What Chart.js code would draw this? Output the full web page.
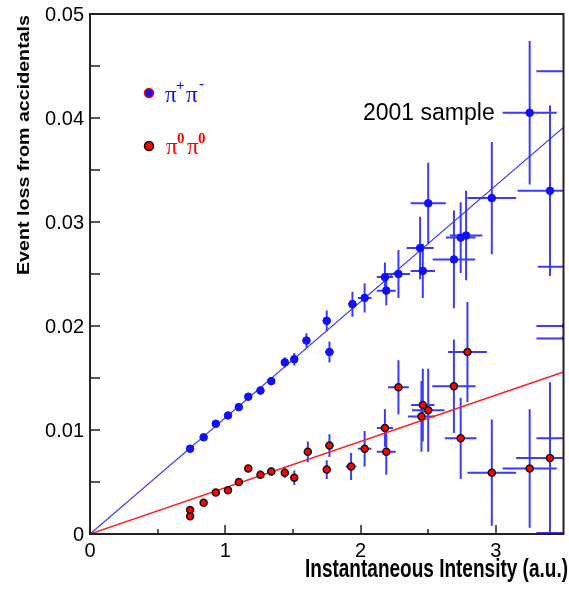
<!DOCTYPE html>
<html lang="en">
<head>
<meta charset="UTF-8">
<title>Event loss from accidentals - 2001 sample</title>
<script src="https://cdn.jsdelivr.net/npm/chart.js"></script>
<style>
  html, body { margin: 0; padding: 0; background: #fff; }
  #wrap { width: 569px; height: 589px; }
</style>
</head>
<body>
<div id="wrap"><canvas id="lossChart" width="569" height="589"></canvas></div>
<script>
// axis ranges and ticks
const xRange = [0, 3.5];
const yRange = [0, 0.05];
const xTickValues = [0, 1, 2, 3];
const xTickLabels = ['0', '1', '2', '3'];
const xMinorTicks = [0.5, 1.5, 2.5];
const yTickValues = [0, 0.01, 0.02, 0.03, 0.04, 0.05];
const yTickLabels = ['0', '0.01', '0.02', '0.03', '0.04', '0.05'];
const yMinorTicks = [0.005, 0.015, 0.025, 0.035, 0.045];

// pi+ pi- (last four sit past the right edge, only their bars show)
const chargedX  = [0.74, 0.84, 0.93, 1.02, 1.10, 1.17, 1.26, 1.34, 1.44, 1.51, 1.60, 1.75, 1.77, 1.94, 2.03, 2.18, 2.19, 2.28, 2.44, 2.46, 2.50, 2.69, 2.74, 2.78, 2.97, 3.25, 3.40, 3.55, 3.53, 3.52, 3.52];
const chargedY  = [0.0082, 0.0093, 0.0106, 0.0114, 0.0122, 0.0132, 0.0138, 0.0147, 0.0165, 0.0168, 0.0186, 0.0205, 0.0175, 0.0221, 0.0227, 0.0247, 0.0234, 0.0250, 0.0275, 0.0253, 0.0318, 0.0264, 0.0285, 0.0287, 0.0323, 0.0405, 0.0330, 0.0445, 0.0257, 0.0200, 0.0188];
const chargedEx = [0.005, 0.005, 0.005, 0.005, 0.005, 0.01, 0.01, 0.01, 0.015, 0.015, 0.02, 0.03, 0.03, 0.03, 0.05, 0.06, 0.07, 0.085, 0.10, 0.09, 0.13, 0.157, 0.11, 0.12, 0.18, 0.2, 0.24, 0.25, 0.22, 0.22, 0.22];
const chargedEy = [0.0002, 0.0002, 0.0003, 0.0003, 0.0003, 0.0003, 0.0004, 0.0004, 0.0005, 0.0006, 0.0007, 0.001, 0.001, 0.0012, 0.0014, 0.0014, 0.0014, 0.0023, 0.003, 0.0026, 0.0039, 0.0047, 0.0034, 0.0043, 0.0054, 0.0069, 0.0082, 0.007, 0.006, 0.005, 0.005];

// pi0 pi0
const neutralX  = [0.74, 0.74, 0.84, 0.93, 1.02, 1.10, 1.17, 1.26, 1.34, 1.44, 1.51, 1.61, 1.75, 1.77, 1.93, 2.03, 2.18, 2.19, 2.28, 2.46, 2.50, 2.45, 2.69, 2.79, 2.74, 2.97, 3.25, 3.40, 3.53, 3.53];
const neutralY  = [0.0023, 0.0017, 0.0030, 0.0040, 0.0042, 0.0050, 0.0063, 0.0057, 0.0060, 0.0059, 0.0054, 0.0079, 0.0062, 0.0085, 0.0065, 0.0082, 0.0102, 0.0079, 0.0141, 0.0124, 0.0119, 0.0113, 0.0142, 0.0175, 0.0092, 0.0059, 0.0063, 0.0073, 0.0092, 0.0001];
const neutralEx = [0.005, 0.005, 0.005, 0.005, 0.005, 0.005, 0.01, 0.01, 0.01, 0.015, 0.015, 0.02, 0.02, 0.03, 0.04, 0.05, 0.06, 0.07, 0.077, 0.086, 0.12, 0.10, 0.16, 0.144, 0.117, 0.18, 0.2, 0.25, 0.23, 0.23];
const neutralEy = [0.0002, 0.0002, 0.0002, 0.0002, 0.0002, 0.0003, 0.0003, 0.0004, 0.0004, 0.0005, 0.0007, 0.001, 0.0009, 0.0011, 0.0013, 0.0017, 0.0018, 0.0022, 0.0026, 0.0035, 0.004, 0.0034, 0.0045, 0.0048, 0.0039, 0.0051, 0.0057, 0.0073, 0.005, 0.005];

// straight-line fits through the origin
const chargedSlope = 0.01117;
const neutralSlope = 0.00445;

const BLUE = '#1010ff';
const BAR_BLUE = '#3b3bff';
const RED = '#ff0000';

function pts(xs, ys) { return xs.map((v, i) => ({ x: v, y: ys[i] })); }

// draw text squeezed/stretched to a given width
function fitText(ctx, text, x, y, width) {
  const w = ctx.measureText(text).width;
  ctx.save();
  ctx.translate(x, y);
  ctx.scale(width / w, 1);
  ctx.fillText(text, 0, 0);
  ctx.restore();
}

const errorBars = {
  id: 'errorBars',
  beforeDatasetsDraw(chart) {
    const { ctx, chartArea: a, scales: { x, y } } = chart;
    ctx.save();
    ctx.beginPath();
    ctx.rect(a.left, a.top, a.right - a.left, a.bottom - a.top);
    ctx.clip();
    ctx.strokeStyle = BAR_BLUE;
    ctx.lineWidth = 2;
    [[chargedX, chargedY, chargedEx, chargedEy], [neutralX, neutralY, neutralEx, neutralEy]].forEach(([xs, ys, exs, eys]) => {
      xs.forEach((xv, i) => {
        const px = x.getPixelForValue(xv);
        const py = y.getPixelForValue(ys[i]);
        ctx.beginPath();
        ctx.moveTo(x.getPixelForValue(xv - exs[i]), py);
        ctx.lineTo(x.getPixelForValue(xv + exs[i]), py);
        ctx.moveTo(px, y.getPixelForValue(ys[i] - eys[i]));
        ctx.lineTo(px, y.getPixelForValue(ys[i] + eys[i]));
        ctx.stroke();
      });
    });
    ctx.restore();
  }
};

const frameAndText = {
  id: 'frameAndText',
  afterDraw(chart) {
    const { ctx, chartArea: a, scales: { x, y } } = chart;
    ctx.save();
    // frame
    ctx.strokeStyle = '#222';
    ctx.lineWidth = 2;
    ctx.strokeRect(a.left, a.top, a.right - a.left, a.bottom - a.top);
    // ticks
    ctx.lineWidth = 1.5;
    ctx.beginPath();
    yTickValues.concat(yMinorTicks).forEach(v => {
      const py = Math.round(y.getPixelForValue(v));
      ctx.moveTo(a.left, py); ctx.lineTo(a.left + 10, py);
    });
    xTickValues.forEach(v => {
      const px = Math.round(x.getPixelForValue(v));
      ctx.moveTo(px, a.bottom); ctx.lineTo(px, a.bottom - 9);
    });
    xMinorTicks.forEach(v => {
      const px = Math.round(x.getPixelForValue(v));
      ctx.moveTo(px, a.bottom); ctx.lineTo(px, a.bottom - 5);
    });
    ctx.stroke();

    // tick labels
    ctx.fillStyle = '#000';
    ctx.font = '20px "Liberation Sans", Arial, sans-serif';
    ctx.textAlign = 'right';
    ctx.textBaseline = 'middle';
    yTickValues.forEach((v, i) => ctx.fillText(yTickLabels[i], 84, y.getPixelForValue(v) + 1));
    ctx.textAlign = 'center';
    ctx.textBaseline = 'alphabetic';
    xTickValues.forEach((v, i) => ctx.fillText(xTickLabels[i], x.getPixelForValue(v), 557));

    // axis titles
    ctx.textAlign = 'left';
    ctx.font = 'bold 25px "Liberation Sans", Arial, sans-serif';
    fitText(ctx, 'Instantaneous Intensity (a.u.)', 305, 577, 263);
    ctx.save();
    ctx.translate(29, 275);
    ctx.rotate(-Math.PI / 2);
    ctx.font = 'bold 17px "Liberation Sans", Arial, sans-serif';
    fitText(ctx, 'Event loss from accidentals', 0, 0, 260);
    ctx.restore();

    // sample label
    ctx.font = '23px "Liberation Sans", Arial, sans-serif';
    ctx.fillText('2001 sample', 363, 120);

    // legend
    ctx.beginPath();
    ctx.arc(149, 93, 4.5, 0, Math.PI * 2);
    ctx.fillStyle = BLUE; ctx.fill();
    ctx.strokeStyle = RED; ctx.lineWidth = 1.5; ctx.stroke();
    ctx.beginPath();
    ctx.arc(149, 146, 4.5, 0, Math.PI * 2);
    ctx.fillStyle = RED; ctx.fill();
    ctx.strokeStyle = '#000'; ctx.lineWidth = 1.5; ctx.stroke();

    const piFont = '23px "Liberation Serif", "DejaVu Serif", serif';
    const supFont = 'bold 15px "Liberation Serif", "DejaVu Serif", serif';
    ctx.fillStyle = BLUE;
    ctx.font = piFont; ctx.fillText('π', 165, 102);
    ctx.font = supFont; ctx.fillText('+', 176, 90);
    ctx.font = piFont; ctx.fillText('π', 186, 102);
    ctx.font = supFont; ctx.fillText('-', 199, 88);
    ctx.fillStyle = RED;
    ctx.font = piFont; ctx.fillText('π', 166, 154);
    ctx.font = supFont; ctx.fillText('0', 177, 143);
    ctx.font = piFont; ctx.fillText('π', 187, 154);
    ctx.font = supFont; ctx.fillText('0', 198, 143);
    ctx.restore();
  }
};

new Chart(document.getElementById('lossChart'), {
  type: 'scatter',
  data: {
    datasets: [
      {
        label: 'π+π-',
        data: pts(chargedX, chargedY),
        pointRadius: 3.8,
        pointBackgroundColor: BLUE,
        pointBorderColor: BLUE,
        pointBorderWidth: 1,
        clip: 0
      },
      {
        label: 'π0π0',
        data: pts(neutralX, neutralY),
        pointRadius: 3.5,
        pointBackgroundColor: RED,
        pointBorderColor: '#111',
        pointBorderWidth: 1.5,
        clip: 0
      },
      {
        label: 'charged fit',
        type: 'line',
        data: [{ x: xRange[0], y: 0 }, { x: xRange[1], y: chargedSlope * xRange[1] }],
        borderColor: '#3030ff',
        borderWidth: 1.2,
        pointRadius: 0,
        clip: 0
      },
      {
        label: 'neutral fit',
        type: 'line',
        data: [{ x: xRange[0], y: 0 }, { x: xRange[1], y: neutralSlope * xRange[1] }],
        borderColor: '#ff2020',
        borderWidth: 1.5,
        pointRadius: 0,
        clip: 0
      }
    ]
  },
  options: {
    responsive: false,
    animation: false,
    layout: { padding: { left: 90, right: 2, top: 14, bottom: 55 } },
    scales: {
      x: { type: 'linear', min: xRange[0], max: xRange[1], display: false },
      y: { type: 'linear', min: yRange[0], max: yRange[1], display: false }
    },
    plugins: { legend: { display: false }, tooltip: { enabled: false } }
  },
  plugins: [errorBars, frameAndText]
});
</script>
</body>
</html>
